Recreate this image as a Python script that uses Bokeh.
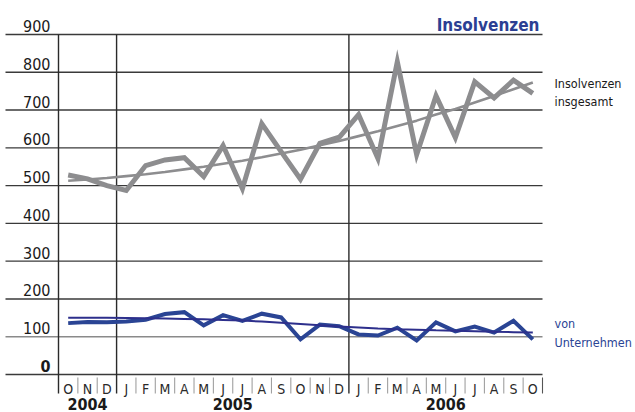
import numpy as np
from bokeh.plotting import figure
from bokeh.models import Range1d, ColumnDataSource
from bokeh.core.properties import value
from bokeh.embed import file_html
from bokeh.resources import INLINE

# ---------------- data ----------------
months = ["O", "N", "D",
          "J", "F", "M", "A", "M", "J", "J", "A", "S", "O", "N", "D",
          "J", "F", "M", "A", "M", "J", "J", "A", "S", "O"]
years = ["2004", "2005", "2006"]
year_start = [0, 3, 15]          # month index where each year begins
year_end = [3, 15, 25]

insgesamt = [528, 518, 500, 487, 553, 568, 574, 524, 606, 492, 664, 590, 517,
             612, 628, 688, 572, 828, 582, 738, 627, 775, 732, 779, 744]
insgesamt_trend = [513, 516, 520, 525, 530, 536, 543, 550, 558, 566, 575, 585, 595,
                   607, 618, 631, 644, 658, 672, 688, 703, 720, 737, 755, 773]
unternehmen = [136, 139, 138, 140, 145, 160, 165, 130, 157, 142, 161, 151, 93,
               132, 128, 106, 103, 124, 90, 138, 114, 127, 111, 142, 93]
unternehmen_trend = [150, 150, 150, 149.5, 149, 148, 147, 146, 144.5, 143, 140, 137, 134,
                     130.5, 127, 124.5, 122, 120, 118.5, 117, 116, 114.5, 113, 112, 111]
y_ticks = [0, 100, 200, 300, 400, 500, 600, 700, 800, 900]

title = "Insolvenzen"
label_total = ["Insolvenzen", "insgesamt"]
label_firms = ["von", "Unternehmen"]

# ---------------- layout (pixels) ----------------
W, H = 635, 412
PXM = 19.36          # pixels per month
PXV = 0.37778        # pixels per unit
X0 = 58              # x pixel of month 0
Y0 = 374             # y pixel of value 0
BS = 3               # baseline correction (px)

def dx(px):  # pixel offset -> months
    return px / PXM

def dv(px):  # pixel offset -> value units
    return px / PXV

def px_x(px):  # absolute x pixel -> data
    return (px - X0) / PXM

def px_y(py):  # absolute baseline pixel -> data (with baseline correction)
    return (Y0 - py + BS) / PXV

FONT = "'DejaVu Sans Condensed', 'DejaVu Sans', sans-serif"
GRAY = "#8d8d8f"
BLUE = "#2a4494"
NAVY = "#2d2f8c"
DARK = "#3a3a3a"

n = len(months)
xs = np.arange(n) + 0.5

p = figure(width=W, height=H, output_backend="svg", toolbar_location=None,
           x_range=Range1d(-dx(X0), dx(W - X0)),
           y_range=Range1d(-dv(H - Y0), dv(Y0)),
           x_axis_type=None, y_axis_type=None, min_border=0)
p.outline_line_color = None
p.background_fill_color = "white"

# horizontal gridlines
grid_col = [("#8a8a8a" if t == 100 else DARK) for t in y_ticks]
p.segment(x0=[px_x(5)] * len(y_ticks), x1=[n] * len(y_ticks), y0=y_ticks, y1=y_ticks,
          line_color=grid_col, line_width=1.4)

# year separators / left axis (full height)
tick_bottom = -dv(19)
p.segment(x0=year_start, x1=year_start, y0=[max(y_ticks)] * 3, y1=[tick_bottom] * 3,
          line_color="#2a2a2a", line_width=1.4)
# month ticks
mt = [b for b in range(1, n + 1) if b not in year_start]
p.segment(x0=mt, x1=mt, y0=[-dv(3)] * len(mt), y1=[tick_bottom] * len(mt),
          line_color=["#555555" if b == n else "#a0a0a0" for b in mt], line_width=1.1)

# series
p.line(xs, insgesamt, line_color=GRAY, line_width=5, line_join="miter")
p.line(xs, insgesamt_trend, line_color=GRAY, line_width=2.6)
p.line(xs, unternehmen, line_color=BLUE, line_width=4, line_join="miter")
p.line(xs, unternehmen_trend, line_color=NAVY, line_width=2)

# y tick labels
ysrc = ColumnDataSource(dict(x=[px_x(50)] * len(y_ticks),
                             y=[t + dv(5.5 + BS) for t in y_ticks],
                             t=[str(t) for t in y_ticks],
                             st=["bold" if t == 0 else "normal" for t in y_ticks]))
p.text(x="x", y="y", text="t", source=ysrc, text_align="right", text_baseline="alphabetic",
       text_font=value(FONT), text_font_size="16px", text_color="#1a1a1a",
       text_font_style="st")

# month labels
p.text(x=xs, y=[px_y(391)] * n, text=months, text_align="center", text_baseline="alphabetic",
       text_font=value(FONT), text_font_size="14px", text_color="#2a2a2a")

# year labels
yc = [(a + b) / 2 for a, b in zip(year_start, year_end)]
p.text(x=yc, y=[px_y(406)] * 3, text=years, text_align="center", text_baseline="alphabetic",
       text_font=value(FONT), text_font_size="16px", text_font_style="bold",
       text_color="#1a1a1a")

# title
p.text(x=[px_x(539)], y=[px_y(27)], text=[title], text_align="right",
       text_baseline="alphabetic", text_font=value(FONT), text_font_size="17px",
       text_font_style="bold", text_color="#2b3f93")

# right-hand labels
rx = px_x(554)
p.text(x=[rx, rx], y=[px_y(86), px_y(104)],
       text=label_total, text_align="left", text_baseline="alphabetic",
       text_font=value(FONT), text_font_size="12.5px", text_color="#1a1a1a")
p.text(x=[rx, rx], y=[px_y(326), px_y(345)],
       text=label_firms, text_align="left", text_baseline="alphabetic",
       text_font=value(FONT), text_font_size="12.5px", text_color=BLUE)

open("out.html", "w").write(file_html(p, INLINE))
